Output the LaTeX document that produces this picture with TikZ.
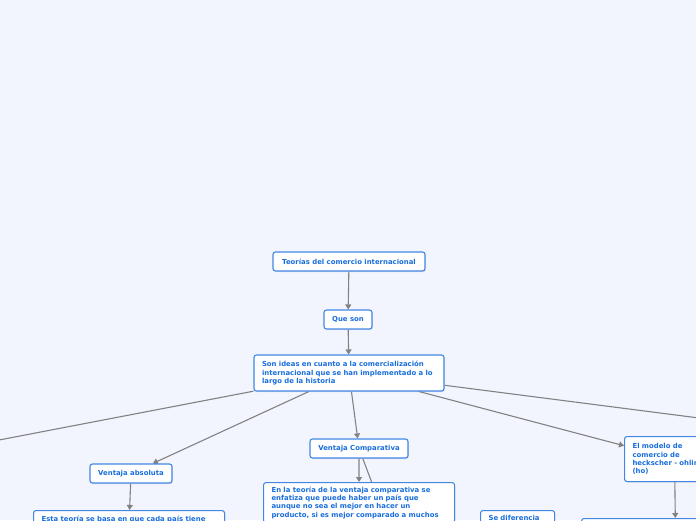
\documentclass[tikz,border=0pt]{standalone}
\usepackage{fontspec}
\setmainfont{DejaVu Sans}
\definecolor{paleblue}{RGB}{242,245,253}
\definecolor{boxblue}{RGB}{66,135,230}
\definecolor{inkblue}{RGB}{24,110,220}
\definecolor{linegray}{RGB}{130,130,130}
\usetikzlibrary{arrows.meta,shadows,backgrounds}

\tikzset{
  topic/.style={draw=boxblue, fill=white, line width=1.1pt, rounded corners=2.5pt,
    text=inkblue, font=\bfseries\fontsize{6.9}{8.4}\selectfont,
    inner xsep=8pt, inner ysep=4pt,
    drop shadow={shadow xshift=0.8pt, shadow yshift=-1pt, opacity=0.2}},
  conn/.style={draw=linegray, line width=1.1pt, -{Triangle[length=5pt,width=6pt]}}
}

\begin{document}
\begin{tikzpicture}[x=1pt, y=-1pt]
    \useasboundingbox (0,0) rectangle (696,520);
    \clip (0,0) rectangle (696,520);

    % main chain
    \node[topic, minimum width=152, minimum height=19] (teorias) at (349,261.5) {Teorías del comercio internacional};
    \node[topic, minimum width=48, minimum height=19] (queson) at (348,319.5) {Que son};
    \node[topic, text width=174, align=left, minimum height=36] (ideas) at (349,373)
        {Son ideas en cuanto a la comercialización\\internacional que se han implementado a lo\\largo de la historia};

    % branches
    \node[topic, minimum width=82, minimum height=19] (absoluta) at (131,473.5) {Ventaja absoluta};
    \node[topic, minimum width=98, minimum height=19] (comparativa) at (359,448.5) {Ventaja Comparativa};
    \node[topic, anchor=north west, text width=84, align=left, minimum height=45] (modelo) at (624,436)
        {El modelo de\\comercio de\\heckscher - ohlin\\(ho)};

    % texts below
    \node[topic, anchor=north west, text width=175, align=left, inner ysep=5pt] (absdesc) at (33,510)
        {Esta teoría se basa en que cada país tiene\\ \strut};
    \node[topic, anchor=north west, text width=175, align=left] (compdesc) at (263,482)
        {En la teoría de la ventaja comparativa se\\enfatiza que puede haber un país que\\aunque no sea el mejor en hacer un\\producto, si es mejor comparado a muchos};
    \node[topic, anchor=north west, text width=58, align=left, inner ysep=5pt] (diferencia) at (480,510) {Se diferencia\\ \strut};
    \node[topic, anchor=north west, minimum width=188, minimum height=40] (hodesc) at (581,518) {};

    \coordinate (offleft) at (-100,459);
    \coordinate (offright) at (800,431);
    \coordinate (comphidden) at (401,560);

    \begin{scope}[on background layer]
        \clip (0,0) rectangle (696,520);
        \fill[paleblue] (0,0) rectangle (696,520);
        \draw[conn] (teorias) -- (queson);
        \draw[conn] (queson) -- (ideas);
        \draw[conn] (ideas) -- (offleft);
        \draw[conn] (ideas) -- (absoluta);
        \draw[conn] (ideas) -- (comparativa);
        \draw[conn] (ideas) -- (modelo);
        \draw[conn] (ideas) -- (offright);
        \draw[conn] (absoluta) -- (absdesc);
        \draw[conn] (comparativa) -- (compdesc);
        \draw[conn] (comparativa) -- (comphidden);
        \draw[conn] (modelo) -- (hodesc);
    \end{scope}
\end{tikzpicture}
\end{document}
